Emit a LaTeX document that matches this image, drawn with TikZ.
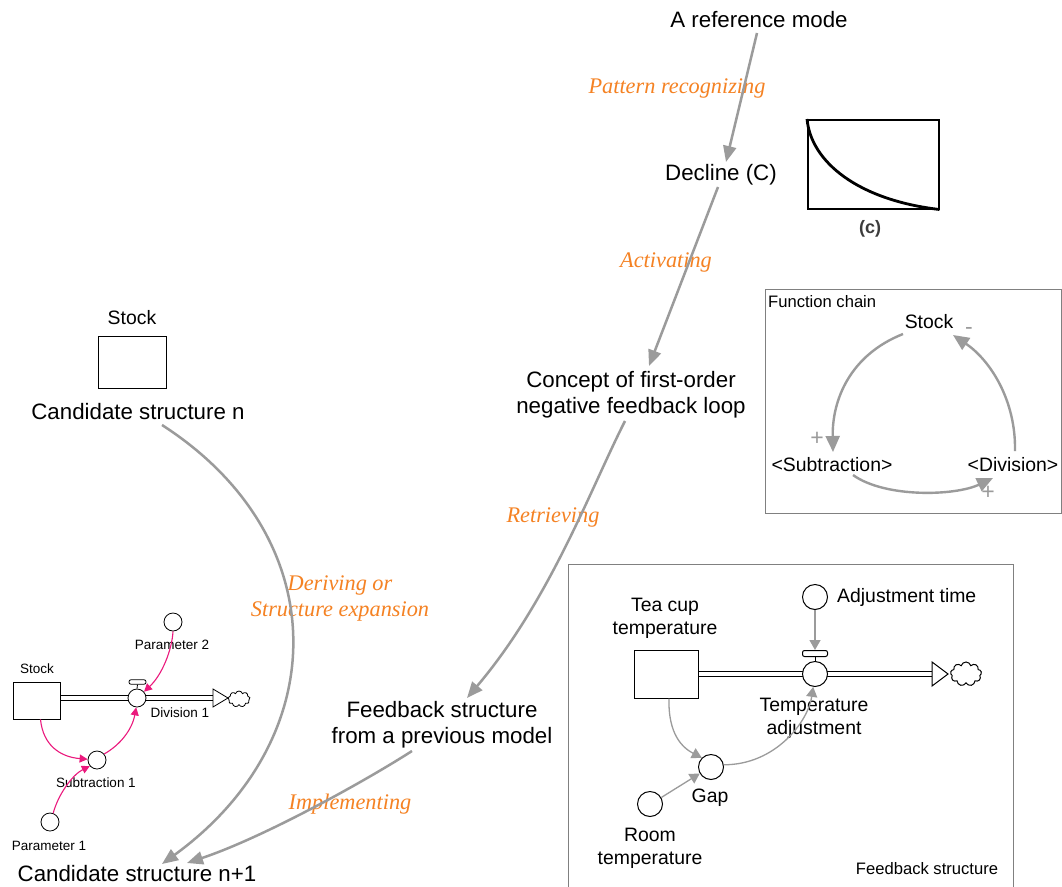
\documentclass[tikz,border=0pt]{standalone}
\usepackage{fontspec}
\setmainfont{Liberation Sans}
\newfontfamily\procfont{Liberation Serif}
\usetikzlibrary{arrows.meta,shapes.symbols,calc,backgrounds}
\definecolor{linkgray}{RGB}{155,155,155}
\definecolor{framegray}{RGB}{128,128,128}
\definecolor{procorange}{RGB}{245,130,35}
\definecolor{linkpink}{RGB}{235,25,125}
\definecolor{captiongray}{RGB}{60,60,60}

\begin{document}
\begin{tikzpicture}[x=1pt,y=-1pt,
  bigtext/.style={inner sep=0pt, font=\fontsize{22.3}{26}\selectfont, align=center},
  medtext/.style={inner sep=0pt, font=\fontsize{19.4}{23}\selectfont, align=center},
  titletext/.style={inner sep=0pt, font=\fontsize{16.6}{20}\selectfont},
  smalltext/.style={inner sep=0pt, font=\fontsize{13.5}{16}\selectfont},
  proctext/.style={inner sep=0pt, text=procorange, align=center,
    font={\procfont\fontsize{22.3}{26}\selectfont\itshape}},
  signtext/.style={inner sep=0pt, text=linkgray, font=\fontsize{23}{26}\selectfont},
  mainlink/.style={draw=linkgray, line width=2.5pt, -{Triangle[length=16pt,width=13pt]}},
  looplink/.style={draw=linkgray, line width=2.4pt, -{Triangle[length=16pt,width=14pt]}},
  sflink/.style={draw=linkgray, line width=1.3pt, -{Triangle[length=10pt,width=11pt]}},
  pinklink/.style={draw=linkpink, line width=1.1pt, -{Triangle[length=8pt,width=8pt]}},
  stockbox/.style={draw, line width=1pt, inner sep=0pt, fill=white},
  auxvar/.style={draw, circle, line width=1pt, inner sep=0pt, fill=white},
  valvebar/.style={draw, line width=1pt, inner sep=0pt, rounded corners=2pt, fill=white},
  flowpipe/.style={double, double distance=4pt, line width=1pt},
  smallpipe/.style={double, double distance=3.4pt, line width=1pt},
  sinkhead/.style={draw, line width=1pt, fill=white},
  sinkcloud/.style={cloud, cloud puffs=9, cloud ignores aspect, draw, inner sep=0pt, fill=white},
  boxframe/.style={draw=framegray, line width=1pt, inner sep=0pt, anchor=north west}
]
\useasboundingbox (0,0) rectangle (1062,886);
\clip (0,0) rectangle (1062,886);

% ---------- main process chain ----------
\node[bigtext] (refmode) at (759,20) {A reference mode};
\node[bigtext] (decline) at (721,175) {Decline (C)};
\node[bigtext] (concept) at (631,395) {Concept of first-order\\negative feedback loop};
\node[bigtext] (fbprev) at (442,725) {Feedback structure\\from a previous model};
\node[bigtext] (candn) at (138,412) {Candidate structure n};
\node[bigtext] (candn1) at (137,874) {Candidate structure n+1};

\node[proctext] (pattern) at (677,88) {Pattern recognizing};
\node[proctext] (activating) at (666,262) {Activating};
\node[proctext] (retrieving) at (553,517) {Retrieving};
\node[proctext] (deriving) at (340,598) {Deriving or\\Structure expansion};
\node[proctext] (implementing) at (350,804) {Implementing};

\draw[mainlink] ($(refmode)+(-2,13)$) -- ($(decline)+(5,-13)$);
\draw[mainlink] ($(decline)+(-3,12)$) -- ($(concept)+(18,-29)$);
\draw[mainlink] ($(concept)+(-6,26)$) .. controls (590,490) and (550,600) .. ($(fbprev)+(25,-27)$);
\draw[mainlink] ($(fbprev)+(-30,26)$) .. controls (362,783) and (262,838) .. ($(candn1)+(50,-11)$);
\draw[mainlink] ($(candn)+(24,13)$) .. controls (336,537) and (334,739) .. ($(candn1)+(25,-10)$);

% ---------- decline pattern sketch ----------
\node[draw, line width=1.5pt, minimum width=131pt, minimum height=89pt, inner sep=0pt,
  anchor=north west] (graph) at (807,119) {};
\draw[line width=2.8pt] (graph.north west) .. controls (811,162) and (858,200) .. (graph.south east);
\node[inner sep=0pt, text=captiongray, font=\bfseries\fontsize{18}{21}\selectfont] (graphcap) at (870,229) {(c)};

% ---------- single stock of candidate structure n ----------
\node[medtext] (stocklab) at (132,318) {Stock};
\node[stockbox, minimum width=68pt, minimum height=52pt] (candbox) at (132,362) {};

% ---------- function chain ----------
\node[boxframe, minimum width=296pt, minimum height=224pt] (fcframe) at (765,289) {};
\node[titletext, anchor=west] (fctitle) at (768,302) {Function chain};
\node[medtext] (fstock) at (929,322) {Stock};
\node[medtext] (fsub) at (832,465) {<Subtraction>};
\node[medtext] (fdiv) at (1013,465) {<Division>};
\draw[looplink] ($(fstock)+(-26,12)$) .. controls (850,355) and (832,400) .. ($(fsub)+(1,-13)$);
\draw[looplink] ($(fsub)+(21,10)$) .. controls (885,498) and (955,496) .. ($(fdiv)+(-20,13)$);
\draw[looplink] ($(fdiv)+(2,-14)$) .. controls (1016,400) and (990,360) .. ($(fstock)+(24,13)$);
\node[signtext] (signneg) at (969,331) {-};
\node[signtext] (signsub) at (817,439) {+};
\node[signtext] (signdiv) at (988,493) {+};

% ---------- feedback structure ----------
\node[boxframe, minimum width=445pt, minimum height=340pt] (fbframe) at (568,564) {};
\node[titletext] (fbtitle) at (927,869) {Feedback structure};

\coordinate (teaflow) at (698,674);
\coordinate (teasink) at (932,674);
\begin{scope}[on background layer]
  \fill[white] (0,0) rectangle (1062,886);
  \draw[flowpipe] (teaflow) -- (teasink);
\end{scope}
\node[stockbox, minimum width=64pt, minimum height=48pt] (tea) at (666,674) {};
\node[medtext] (tealab) at (665,618) {Tea cup\\temperature};
\node[auxvar, minimum size=25pt] (valve) at (815,674) {};
\node[valvebar, minimum width=25pt, minimum height=6pt] (bar) at (815,653.5) {};
\draw[line width=1pt] (bar.south) -- (valve.north);
\draw[sinkhead] ($(teasink)+(0,-12)$) -- ($(teasink)+(16,0)$) -- ($(teasink)+(0,12)$) -- cycle;
\node[sinkcloud, line width=1pt, minimum width=31pt, minimum height=24pt] (cloud) at (966,674) {};
\node[medtext] (adjlab) at (814,718) {Temperature\\adjustment};

\node[auxvar, minimum size=25pt] (adjt) at (815,597) {};
\node[medtext, anchor=west] (adjtlab) at (837,597) {Adjustment time};
\node[auxvar, minimum size=25pt] (gap) at (711,767) {};
\node[medtext] (gaplab) at (710,798) {Gap};
\node[auxvar, minimum size=25pt] (room) at (650,804) {};
\node[medtext] (roomlab) at (650,848) {Room\\temperature};

\draw[sflink] (adjt.south) -- (bar.north);
\draw[sflink] ([xshift=3pt]tea.south) .. controls (668,735) and (683,748) .. (gap.135);
\draw[sflink] (room.30) -- (gap.210);
\draw[sflink] (gap.10) .. controls (775,765) and (808,722) .. (valve.262);

% ---------- expanded candidate structure ----------
\coordinate (stkflow) at (60,698);
\coordinate (stksink) at (213,698);
\begin{scope}[on background layer]
  \draw[smallpipe] (stkflow) -- (stksink);
\end{scope}
\node[smalltext] (stklab) at (37,669) {Stock};
\node[stockbox, line width=0.8pt, minimum width=47pt, minimum height=37pt] (stk) at (36.5,700.5) {};
\node[auxvar, line width=0.8pt, minimum size=18pt] (valve2) at (137,698) {};
\node[valvebar, line width=0.8pt, minimum width=17pt, minimum height=4.5pt] (bar2) at (137.5,682) {};
\draw[line width=0.8pt] (bar2.south) -- (valve2.north);
\draw[sinkhead, line width=0.8pt] ($(stksink)+(0,-9)$) -- ($(stksink)+(15,0)$) -- ($(stksink)+(0,9)$) -- cycle;
\node[sinkcloud, line width=0.8pt, minimum width=22pt, minimum height=16pt] (cloud2) at (239,699) {};
\node[smalltext] (divlab) at (180,713) {Division 1};

\node[auxvar, line width=0.8pt, minimum size=18pt] (param2) at (173,622) {};
\node[smalltext] (p2lab) at (172,645) {Parameter 2};
\node[auxvar, line width=0.8pt, minimum size=18pt] (sub1) at (97,760) {};
\node[smalltext] (sublab) at (96,783) {Subtraction 1};
\node[auxvar, line width=0.8pt, minimum size=18pt] (param1) at (50,822) {};
\node[smalltext] (p1lab) at (49,846) {Parameter 1};

\draw[pinklink] (param2.south) .. controls (172,650) and (162,675) .. (valve2.42);
\draw[pinklink] ([xshift=4pt]stk.south) .. controls (43,745) and (60,757) .. (sub1.175);
\draw[pinklink] (sub1.40) .. controls (120,745) and (132,730) .. (valve2.265);
\draw[pinklink] (param1.70) .. controls (58,795) and (72,775) .. (sub1.220);
\end{tikzpicture}
\end{document}
